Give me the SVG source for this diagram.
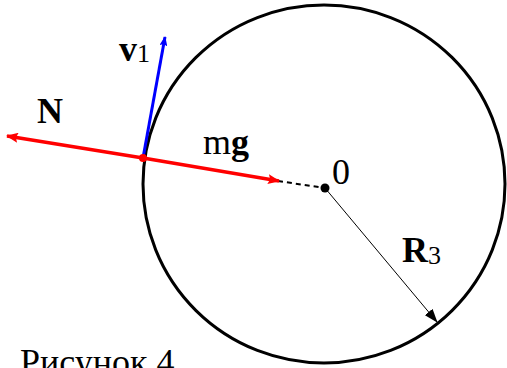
<svg xmlns="http://www.w3.org/2000/svg" width="507" height="368" viewBox="0 0 507 368">
<style>
text{font-family:"Liberation Serif","Times New Roman",serif;font-size:36px;fill:#000}
.b{font-weight:bold}
.sub{font-size:26px}
</style>
<defs>
<marker id="ar" markerWidth="12" markerHeight="10" refX="11" refY="5" orient="auto" markerUnits="userSpaceOnUse"><path d="M0,0 L12,5 L0,10 L2,5 Z" fill="#f00"/></marker>
<marker id="ab" markerWidth="10" markerHeight="8" refX="9" refY="4" orient="auto" markerUnits="userSpaceOnUse"><path d="M0,0 L10,4 L0,8 L2,4 Z" fill="#00f"/></marker>
<marker id="ak" markerWidth="14" markerHeight="10" refX="13" refY="5" orient="auto" markerUnits="userSpaceOnUse"><path d="M0,0 L14,5 L0,10 Z" fill="#000"/></marker>
</defs>
<g id="circle"><ellipse cx="324" cy="184" rx="181" ry="179" fill="none" stroke="#000" stroke-width="3"/></g>
<g id="connectors">
<line x1="325" y1="188" x2="437" y2="322" stroke="#000" stroke-width="1" marker-end="url(#ak)"/>
<line x1="278" y1="181" x2="325" y2="188" stroke="#000" stroke-width="2" stroke-dasharray="5,4"/>
<line x1="143" y1="158" x2="7" y2="136" stroke="#f00" stroke-width="3.5" marker-end="url(#ar)"/>
<line x1="143" y1="158" x2="279" y2="181" stroke="#f00" stroke-width="3.5" marker-end="url(#ar)"/>
<line x1="143" y1="158" x2="165" y2="37" stroke="#00f" stroke-width="3" marker-end="url(#ab)"/>
</g>
<g id="point"><circle cx="143" cy="158" r="4" fill="#f00"/></g>
<g id="center"><circle cx="325" cy="188" r="4.5" fill="#000"/></g>
<g id="labels">
<text x="37" y="123" class="b">N</text>
<text x="119" y="61"><tspan class="b">v</tspan><tspan class="sub" dy="1">1</tspan></text>
<text x="203" y="154">m<tspan class="b">g</tspan></text>
<text x="332" y="184">0</text>
<text x="402" y="262"><tspan class="b">R</tspan><tspan class="sub" dy="2">3</tspan></text>
<text x="20" y="374">Рисунок 4</text>
</g>
</svg>
